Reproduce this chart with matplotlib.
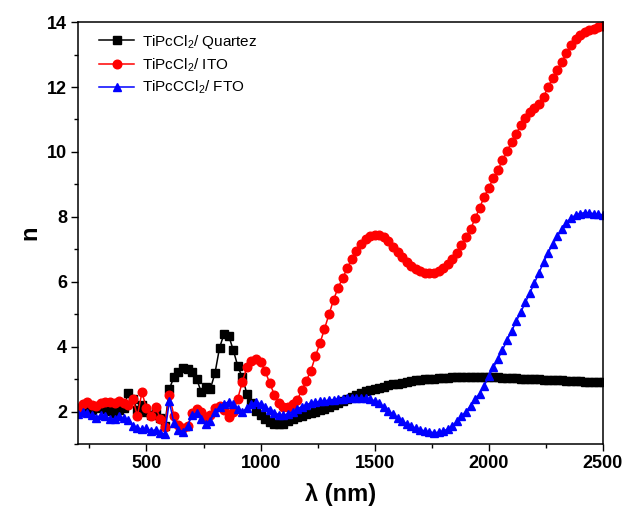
import numpy as np
import matplotlib
matplotlib.use("Agg")
import matplotlib.pyplot as plt
from matplotlib.ticker import MultipleLocator

plt.rcParams['font.family'] = ['Liberation Sans', 'DejaVu Sans']
plt.rcParams['mathtext.fontset'] = 'custom'
plt.rcParams['mathtext.rm'] = 'Liberation Sans'
plt.rcParams['mathtext.it'] = 'Liberation Sans:italic'
plt.rcParams['mathtext.bf'] = 'Liberation Sans:bold'

# Wavelength grid (nm), 20 nm steps from 200 to 2500
wavelength = np.arange(200, 2501, 20)

# Refractive index n for each film
n_quartz = [
    2.05, 2.08, 2.10, 2.05, 2.12, 2.14, 2.07, 2.02, 1.97, 2.05,
    2.10, 2.58, 2.38, 2.05, 2.20, 2.00, 1.90, 1.95, 1.80, 1.55,
    2.69, 3.06, 3.23, 3.34, 3.32, 3.22, 3.00, 2.60, 2.75, 2.70,
    3.18, 3.96, 4.40, 4.34, 3.90, 3.40, 3.05, 2.55, 2.25, 2.02,
    1.88, 1.76, 1.67, 1.63, 1.62, 1.63, 1.70, 1.76, 1.82, 1.87,
    1.91, 1.95, 1.99, 2.04, 2.09, 2.15, 2.21, 2.27, 2.33, 2.40,
    2.46, 2.52, 2.57, 2.62, 2.66, 2.70, 2.74, 2.77, 2.81, 2.84,
    2.86, 2.89, 2.92, 2.94, 2.96, 2.98, 2.99, 3.00, 3.01, 3.02,
    3.03, 3.04, 3.05, 3.05, 3.06, 3.06, 3.06, 3.06, 3.06, 3.06,
    3.05, 3.05, 3.05, 3.04, 3.04, 3.03, 3.02, 3.01, 3.01, 3.00,
    3.00, 2.99, 2.98, 2.98, 2.97, 2.96, 2.96, 2.95, 2.94, 2.93,
    2.93, 2.92, 2.91, 2.91, 2.90, 2.90,
]

n_ito = [
    2.12, 2.22, 2.28, 2.20, 2.18, 2.25, 2.30, 2.30, 2.26, 2.31,
    2.27, 2.20, 2.40, 1.86, 2.59, 2.10, 1.86, 2.15, 1.78, 1.52,
    2.52, 1.87, 1.60, 1.50, 1.55, 1.95, 2.08, 1.98, 1.82, 1.90,
    2.10, 2.18, 2.05, 1.82, 1.98, 2.40, 2.92, 3.36, 3.56, 3.62,
    3.52, 3.24, 2.88, 2.52, 2.27, 2.14, 2.14, 2.22, 2.35, 2.65,
    2.95, 3.25, 3.70, 4.10, 4.55, 5.00, 5.45, 5.82, 6.12, 6.42,
    6.70, 6.94, 7.16, 7.32, 7.41, 7.45, 7.44, 7.37, 7.25, 7.08,
    6.91, 6.75, 6.61, 6.48, 6.38, 6.32, 6.28, 6.27, 6.28, 6.33,
    6.43, 6.56, 6.70, 6.90, 7.13, 7.37, 7.62, 7.95, 8.28, 8.62,
    8.90, 9.19, 9.45, 9.74, 10.02, 10.30, 10.56, 10.82, 11.05, 11.24,
    11.36, 11.47, 11.70, 12.00, 12.28, 12.52, 12.78, 13.05, 13.28, 13.47,
    13.60, 13.70, 13.76, 13.80, 13.84, 13.88,
]

n_fto = [
    1.92, 1.98, 1.95, 1.88, 1.80, 1.90, 1.86, 1.76, 1.78, 1.85,
    1.80, 1.74, 1.55, 1.50, 1.45, 1.48, 1.40, 1.44, 1.35, 1.31,
    2.31, 1.64, 1.44, 1.38, 1.55, 1.90, 1.95, 1.78, 1.62, 1.72,
    2.00, 2.14, 2.24, 2.30, 2.22, 2.07, 2.00, 2.10, 2.24, 2.28,
    2.24, 2.15, 2.05, 1.97, 1.90, 1.88, 1.93, 2.00, 2.08, 2.15,
    2.21, 2.26, 2.29, 2.31, 2.33, 2.35, 2.37, 2.39, 2.40, 2.41,
    2.42, 2.42, 2.42, 2.41, 2.38, 2.33, 2.25, 2.15, 2.03, 1.91,
    1.80, 1.70, 1.62, 1.55, 1.49, 1.44, 1.40, 1.37, 1.35, 1.36,
    1.40, 1.46, 1.55, 1.70, 1.86, 2.00, 2.18, 2.40, 2.55, 2.80,
    3.08, 3.36, 3.62, 3.90, 4.20, 4.48, 4.78, 5.06, 5.36, 5.66,
    5.96, 6.28, 6.60, 6.90, 7.15, 7.40, 7.62, 7.82, 7.96, 8.05,
    8.10, 8.13, 8.12, 8.10, 8.08, 8.05,
]

labels = ["TiPcCl$_2$/ Quartez", "TiPcCl$_2$/ ITO", "TiPcCCl$_2$/ FTO"]

fig = plt.figure(figsize=(6.38, 5.14), dpi=100)
ax = fig.add_axes([0.1223, 0.1362, 0.8227, 0.8208])

ax.plot(wavelength, n_quartz, color='black', marker='s', markersize=5.8,
        linewidth=1.1, label=labels[0])
ax.plot(wavelength, n_ito, color='red', marker='o', markersize=6.2,
        linewidth=1.1, label=labels[1])
ax.plot(wavelength, n_fto, color='blue', marker='^', markersize=6.2,
        linewidth=1.1, label=labels[2])

ax.set_xlim(200, 2500)
ax.set_ylim(1, 14)
ax.xaxis.set_major_locator(MultipleLocator(500))
ax.xaxis.set_minor_locator(MultipleLocator(250))
ax.yaxis.set_major_locator(MultipleLocator(2))
ax.yaxis.set_minor_locator(MultipleLocator(1))

ax.tick_params(which='both', direction='out', top=False, right=False,
               width=1.0)
ax.tick_params(which='major', length=5, labelsize=13, pad=3)
ax.tick_params(which='minor', length=3)
for lab in ax.get_xticklabels() + ax.get_yticklabels():
    lab.set_fontweight('bold')
for sp in ax.spines.values():
    sp.set_linewidth(1.1)

ax.set_xlabel('λ (nm)', fontsize=17, fontweight='bold', labelpad=8)
ax.set_ylabel('n', fontsize=17, fontweight='bold', labelpad=4)

ax.legend(loc='upper left', frameon=False, fontsize=11,
          handlelength=2.3, handletextpad=0.5, borderaxespad=0.3,
          labelspacing=0.35, bbox_to_anchor=(0.02, 1.0))

fig.savefig('out.png', dpi=100)
